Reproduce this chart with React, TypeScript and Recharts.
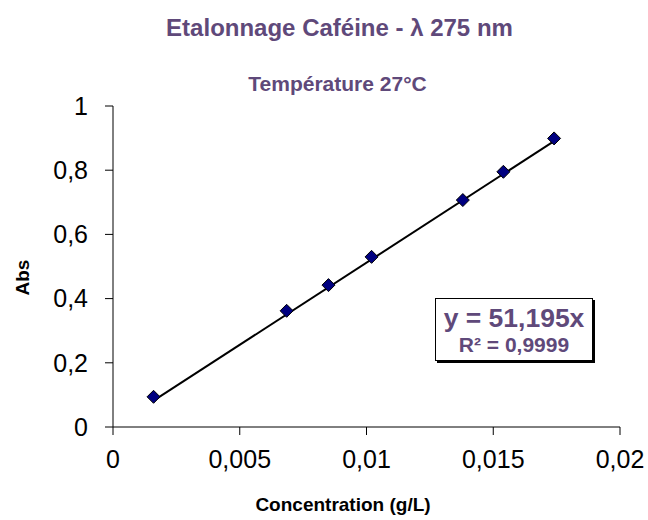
import React from "react";
import { ScatterChart, Scatter, XAxis, YAxis } from "recharts";

const concentrations = [0.0016, 0.00685, 0.0085, 0.0102, 0.0138, 0.0154, 0.0174];
const absorbances = [0.094, 0.362, 0.442, 0.53, 0.707, 0.795, 0.899];
const xTicks = [0, 0.005, 0.01, 0.015, 0.02];
const yTicks = [0, 0.2, 0.4, 0.6, 0.8, 1];
const slope = 51.195;

const points = concentrations.map((x, i) => ({ x, y: absorbances[i] }));
const trend = [
  { x: concentrations[0], y: slope * concentrations[0] },
  { x: concentrations[concentrations.length - 1], y: slope * concentrations[concentrations.length - 1] },
];

const purple = "#5f497a";
const font = "'Liberation Sans', Arial, sans-serif";
const fmt = (v: number) => String(v).replace(".", ",");

const Diamond = (props: any) => {
  const { cx, cy } = props;
  const r = 6.5;
  return (
    <polygon
      points={`${cx},${cy - r} ${cx + r},${cy} ${cx},${cy + r} ${cx - r},${cy}`}
      fill="#000080"
      stroke="#000"
      strokeWidth={1}
    />
  );
};

export default function App() {
  return (
    <div style={{ position: "absolute", left: 0, top: 0, width: 648, height: 520, background: "#fff", fontFamily: font }}>
      <ScatterChart width={648} height={520} margin={{ top: 106, right: 28, bottom: 0, left: 0 }}>
        <XAxis
          type="number"
          dataKey="x"
          domain={[0, 0.02]}
          ticks={xTicks}
          tickFormatter={fmt}
          stroke="#000"
          tickSize={8}
          tick={{ fill: "#000", fontSize: 25, fontFamily: font }}
          tickMargin={15}
          height={93}
        />
        <YAxis
          type="number"
          dataKey="y"
          domain={[0, 1]}
          ticks={yTicks}
          tickFormatter={fmt}
          stroke="#000"
          tickSize={8}
          tick={{ fill: "#000", fontSize: 25, fontFamily: font }}
          tickMargin={17}
          width={113}
        />
        <Scatter
          data={trend}
          line={{ stroke: "#000", strokeWidth: 2 }}
          shape={() => null}
          isAnimationActive={false}
        />
        <Scatter data={points} shape={Diamond} isAnimationActive={false} />
      </ScatterChart>
      {/* titles */}
      <div style={{ position: "absolute", left: 0, width: 679, top: 15.5, textAlign: "center", color: purple, fontWeight: "bold", fontSize: 24, lineHeight: "24px", whiteSpace: "nowrap" }}>
        Etalonnage Caféine - λ 275 nm
      </div>
      <div style={{ position: "absolute", left: 0, width: 675, top: 72.5, textAlign: "center", color: purple, fontWeight: "bold", fontSize: 21, lineHeight: "21px", whiteSpace: "nowrap" }}>
        Température 27°C
      </div>
      {/* axis titles */}
      <div style={{ position: "absolute", left: 0, width: 686, top: 495, textAlign: "center", color: "#000", fontWeight: "bold", fontSize: 19, lineHeight: "19px", whiteSpace: "nowrap" }}>
        Concentration (g/L)
      </div>
      <div style={{ position: "absolute", left: -28, width: 100, top: 268, textAlign: "center", color: "#000", fontWeight: "bold", fontSize: 19, lineHeight: "19px", whiteSpace: "nowrap", transform: "rotate(-90deg)" }}>
        Abs
      </div>
      {/* equation box */}
      <div
        style={{
          position: "absolute",
          left: 435,
          top: 298,
          width: 158,
          height: 63,
          border: "1px solid #000",
          boxShadow: "2px 2px 0 #000",
          background: "#fff",
          color: purple,
          fontWeight: "bold",
          boxSizing: "border-box",
        }}
      >
        <div style={{ position: "absolute", left: 0, right: 0, top: 5.5, textAlign: "center", fontSize: 26.5, lineHeight: "26.5px", whiteSpace: "nowrap" }}>
          y = 51,195x
        </div>
        <div style={{ position: "absolute", left: 0, right: 0, top: 35, textAlign: "center", fontSize: 21, lineHeight: "21px", whiteSpace: "nowrap" }}>
          R² = 0,9999
        </div>
      </div>
    </div>
  );
}
